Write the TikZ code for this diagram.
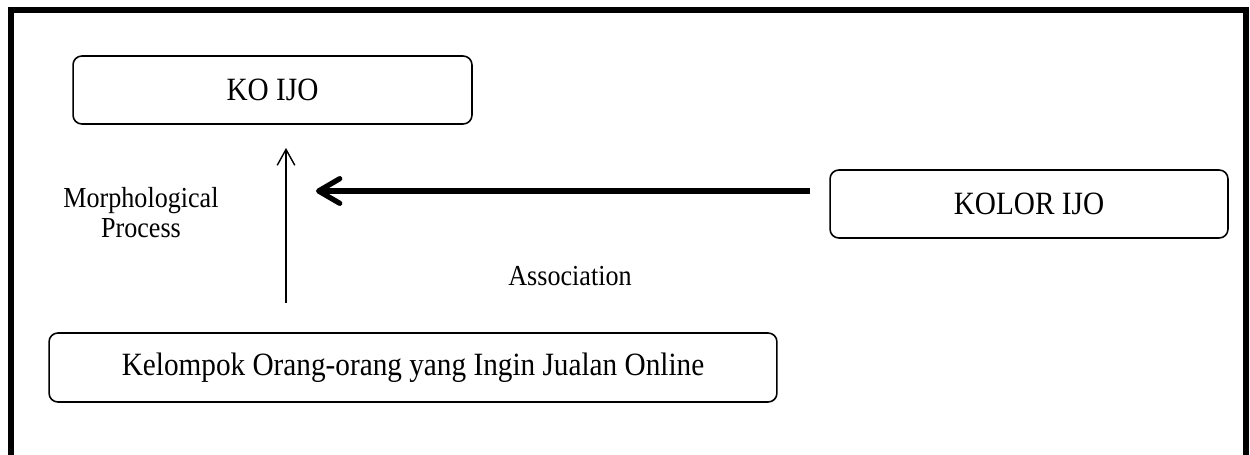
\documentclass[tikz,border=0pt]{standalone}
\usepackage{fontspec}
\setmainfont[FakeStretch=0.9]{Liberation Serif}
\usetikzlibrary{positioning,arrows.meta}

\tikzset{
    term/.style={draw, rounded corners=5pt, line width=0.9pt, font=\fontsize{18.5}{21}\selectfont},
    lbl/.style={font=\fontsize{16.5}{17}\selectfont, align=center}
}

\begin{document}
\begin{tikzpicture}[x=0.02cm, y=-0.02cm]
            \useasboundingbox (0,0) rectangle (1250,454);
            % frame, open at the bottom
            \draw[line width=2.9pt] (11,470) -- (11,10) -- (1246,10) -- (1246,470);
            \node[term, minimum width=7.98cm, minimum height=1.36cm] (koijo) at (272.5,90) {KO IJO};
            \node[term, minimum width=7.96cm, minimum height=1.36cm] (kolor) at (1029,204) {KOLOR IJO};
            \node[term, minimum width=14.56cm, minimum height=1.38cm] (kelompok) at (413,367.5) {Kelompok Orang-orang yang Ingin Jualan Online};
            \coordinate (up0) at (286,303);
            \coordinate (up1) at (286,148);
            \coordinate (as0) at (810,191);
            \coordinate (as1) at (316,191);
            \node[lbl] (morph) at (141,213) {Morphological\\Process};
            \node[lbl] (assoc) at (570,276) {Association};
            \draw[-{Straight Barb[length=9pt,width=10pt]}, line width=0.8pt] (up0) -- (up1);
            \draw[-{Straight Barb[length=12pt,width=14pt,round]}, line width=3pt] (as0) -- (as1);
        \end{tikzpicture}
\end{document}
